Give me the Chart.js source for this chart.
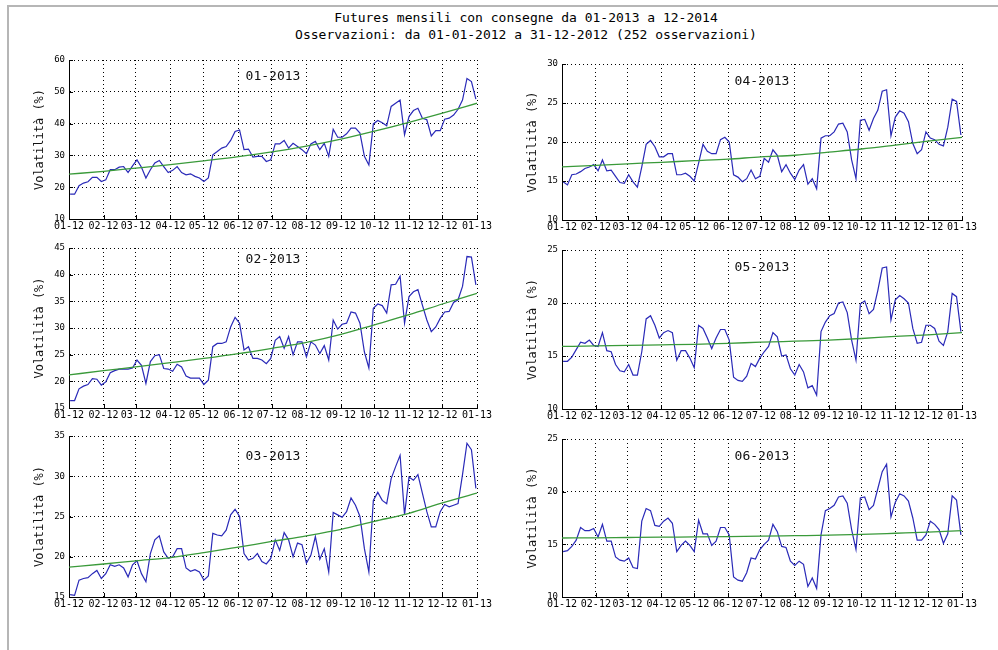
<!DOCTYPE html>
<html>
<head>
<meta charset="utf-8">
<script src="https://cdn.jsdelivr.net/npm/chart.js@4"></script>
<style>
  html, body { margin: 0; padding: 0; background: #fff; }
  body { width: 998px; height: 650px; overflow: hidden; position: relative; font-family: "DejaVu Sans Mono", monospace; }
  #frame { position: absolute; left: 7px; top: 5px; right: -10px; bottom: -10px;
           border-top: 2px solid #b6b6b6; border-left: 2px solid #b6b6b6; }
  .fig-title { position: absolute; left: 0; width: 1052px; text-align: center; font-size: 13px;
               line-height: 15px; color: #000; white-space: pre; }
  canvas { position: absolute; }
</style>
</head>
<body>
<div id="frame"></div>
<div class="fig-title" style="top:10px">Futures mensili con consegne da 01-2013 a 12-2014</div>
<div class="fig-title" style="top:27px">Osservazioni: da 01-01-2012 a 31-12-2012 (252 osservazioni)</div>

<script>
// ---- x axis: day of 2012 at each month start, and its labels ----
const monthDays = [0, 31, 60, 91, 121, 152, 182, 213, 244, 274, 305, 335, 366];
const monthLabels = ['01-12', '02-12', '03-12', '04-12', '05-12', '06-12', '07-12',
                     '08-12', '09-12', '10-12', '11-12', '12-12', '01-13'];

// ---- sampling days (day of 2012) of the volatility series ----
const sampleDays = [1, 5, 9, 13, 17, 21, 25, 29, 33, 37, 41, 45, 49, 53, 57, 61, 65, 69, 73, 77,
  81, 85, 89, 93, 97, 101, 105, 109, 113, 117, 121, 125, 129, 133, 137, 141, 145, 149, 153, 157,
  161, 165, 169, 173, 177, 181, 185, 189, 193, 197, 201, 205, 209, 213, 217, 221, 225, 229, 233, 237,
  241, 245, 249, 253, 257, 261, 265, 269, 273, 277, 281, 285, 289, 293, 297, 301, 305, 309, 313, 317,
  321, 325, 329, 333, 337, 341, 345, 349, 353, 357, 361, 365];

// ---- volatility (%) per delivery month ----
const vol0113 = [
  17.8, 17.8, 20.5, 21.3, 21.7, 23.1, 23.1, 21.8, 22.3, 25.5,
  25.5, 26.3, 26.5, 24.6, 26.7, 28.6, 26.3, 22.9, 25.5, 27.6,
  28.4, 26.5, 24.6, 25.3, 26.5, 24.6, 23.9, 24.2, 23.4, 22.9,
  21.8, 22.9, 30.2, 31.2, 32.3, 32.8, 34.7, 37.5, 38.0, 31.8,
  32.0, 29.5, 29.7, 29.7, 28.1, 28.6, 33.6, 33.6, 34.7, 32.3,
  33.8, 32.8, 31.8, 30.5, 33.6, 34.4, 31.8, 33.8, 29.7, 38.2,
  35.7, 35.7, 36.8, 38.6, 38.6, 37.0, 29.7, 27.0, 39.9, 41.0,
  40.3, 39.3, 45.4, 46.4, 47.4, 36.5, 42.2, 44.1, 44.8, 41.7,
  41.2, 36.1, 37.8, 37.8, 41.4, 41.7, 42.7, 44.5, 47.4, 54.2,
  53.2, 47.7];
const vol0213 = [
  16.4, 16.4, 18.6, 19.1, 19.4, 20.5, 20.4, 19.3, 19.9, 21.6,
  22.0, 22.3, 22.3, 22.3, 22.5, 24.0, 23.0, 19.6, 23.7, 24.8,
  25.0, 22.4, 22.3, 21.9, 23.2, 22.7, 21.0, 20.6, 20.6, 20.6,
  19.4, 20.2, 26.5, 27.1, 27.1, 27.4, 30.2, 32.0, 30.9, 25.9,
  26.5, 24.3, 24.3, 24.0, 23.3, 24.3, 27.7, 28.4, 26.2, 28.4,
  25.0, 27.4, 27.4, 24.6, 27.4, 26.8, 25.2, 26.7, 24.0, 31.5,
  29.8, 30.7, 30.9, 33.0, 32.8, 30.9, 25.5, 22.5, 33.7, 34.5,
  34.2, 32.8, 38.1, 38.2, 39.7, 30.9, 35.9, 36.8, 37.2, 34.3,
  31.5, 29.3, 30.2, 31.8, 33.0, 33.1, 34.8, 35.3, 37.8, 43.4,
  43.3, 38.1];
const vol0313 = [
  15.3, 15.2, 17.1, 17.3, 17.4, 17.9, 18.3, 17.3, 17.9, 19.0,
  18.8, 19.0, 18.6, 17.5, 19.0, 19.5, 17.9, 16.9, 20.4, 22.1,
  22.6, 20.6, 19.8, 20.0, 21.0, 21.0, 18.6, 18.2, 18.4, 18.1,
  17.1, 17.6, 22.9, 22.7, 22.6, 23.3, 25.2, 25.9, 25.0, 20.4,
  19.6, 19.8, 20.4, 19.4, 19.1, 19.8, 22.1, 20.8, 23.0, 22.1,
  20.0, 21.7, 21.5, 19.2, 20.2, 22.5, 19.7, 21.0, 18.1, 25.5,
  25.2, 24.9, 25.6, 27.3, 26.4, 25.0, 21.0, 18.1, 27.0, 28.0,
  27.0, 26.6, 29.7, 31.2, 32.6, 25.2, 29.9, 29.5, 30.2, 27.9,
  25.6, 23.7, 23.7, 25.6, 26.5, 26.2, 26.4, 26.6, 30.2, 34.1,
  33.3, 28.5];
const vol0413 = [
  14.9, 14.5, 15.8, 15.9, 16.2, 16.6, 16.8, 17.1, 16.3, 17.7,
  16.3, 16.4, 15.6, 14.8, 14.7, 15.8, 14.9, 14.2, 16.8, 19.7,
  20.2, 19.4, 18.1, 18.1, 18.5, 18.5, 15.8, 15.8, 16.0, 15.6,
  15.0, 17.3, 19.7, 18.8, 18.5, 18.5, 20.3, 20.6, 20.0, 15.8,
  15.5, 14.9, 15.3, 16.4, 15.3, 15.6, 17.9, 17.4, 19.0, 18.3,
  16.2, 17.1, 16.0, 15.2, 16.4, 17.1, 14.6, 15.3, 14.0, 20.5,
  20.8, 20.8, 21.3, 22.3, 22.4, 21.3, 17.7, 15.3, 22.8, 22.9,
  21.5, 23.0, 24.1, 26.5, 26.7, 20.8, 23.2, 24.0, 23.7, 22.6,
  19.8, 18.5, 19.0, 21.3, 20.5, 20.3, 19.7, 19.5, 21.9, 25.5,
  25.2, 20.9];
const vol0513 = [
  14.5, 14.5, 14.9, 15.6, 16.3, 16.2, 16.5, 16.0, 15.9, 17.2,
  15.5, 15.4, 14.2, 13.6, 13.5, 14.2, 13.2, 13.2, 15.4, 18.5,
  18.8, 17.9, 16.7, 17.2, 17.4, 17.2, 14.6, 15.5, 15.5, 14.8,
  13.9, 17.9, 17.6, 16.7, 15.7, 16.7, 17.5, 17.5, 16.5, 13.0,
  12.7, 12.6, 13.1, 14.3, 14.0, 14.8, 15.4, 15.9, 17.2, 16.8,
  15.0, 15.1, 13.8, 13.2, 14.2, 13.5, 12.0, 12.2, 11.3, 17.3,
  18.2, 18.8, 19.0, 20.0, 20.1, 19.1, 16.5, 14.6, 19.9, 20.2,
  19.0, 19.4, 21.2, 23.3, 23.4, 18.4, 20.3, 20.7, 20.4, 20.0,
  17.6, 16.2, 16.3, 17.9, 17.9, 17.6, 16.4, 16.0, 17.3, 20.9,
  20.6, 17.3];
const vol0613 = [
  14.3, 14.4, 14.8, 15.4, 16.6, 16.3, 16.3, 16.5, 15.7, 16.9,
  15.3, 15.3, 13.8, 13.5, 13.4, 13.7, 12.8, 12.7, 17.2, 18.4,
  18.2, 16.8, 16.7, 17.2, 17.5, 17.0, 14.3, 14.9, 15.3, 14.9,
  14.3, 17.3, 16.0, 16.0, 14.9, 15.3, 16.6, 16.6, 15.9, 11.9,
  11.6, 11.5, 12.3, 13.7, 13.6, 14.5, 15.0, 15.4, 16.9, 16.2,
  14.8, 14.7, 13.4, 13.0, 13.4, 13.1, 11.0, 11.8, 10.8, 15.9,
  18.2, 18.4, 18.7, 19.5, 19.6, 18.9, 16.4, 14.5, 19.4, 19.5,
  18.3, 18.7, 20.3, 21.9, 22.6, 17.6, 19.0, 19.8, 19.6, 19.1,
  17.5, 15.4, 15.4, 15.9, 17.2, 16.9, 16.4, 15.1, 16.0, 19.6,
  19.2, 15.9];

// ---- fitted trend (%) at each month start ----
const trend0113 = [24.1, 25.0, 26.0, 27.1, 28.3, 29.6, 31.1, 32.9, 35.1, 37.6, 40.4, 43.3, 46.4];
const trend0213 = [21.2, 22.0, 22.7, 23.5, 24.3, 25.2, 26.2, 27.3, 28.8, 30.6, 32.5, 34.5, 36.5];
const trend0313 = [18.7, 19.1, 19.5, 19.9, 20.5, 21.2, 21.9, 22.6, 23.4, 24.4, 25.4, 26.7, 27.9];
const trend0413 = [16.8, 17.0, 17.2, 17.4, 17.6, 17.8, 18.1, 18.3, 18.7, 19.1, 19.6, 20.1, 20.6];
const trend0513 = [15.9, 15.95, 16.0, 16.05, 16.1, 16.2, 16.3, 16.4, 16.5, 16.65, 16.85, 17.0, 17.2];
const trend0613 = [15.6, 15.62, 15.65, 15.68, 15.7, 15.73, 15.77, 15.82, 15.87, 15.95, 16.05, 16.15, 16.3];

// ---- y tick values per panel ----
const yTicks0113 = [10, 20, 30, 40, 50, 60];
const yTicks0213 = [15, 20, 25, 30, 35, 40, 45];
const yTicks0313 = [15, 20, 25, 30, 35];
const yTicks0413 = [10, 15, 20, 25, 30];
const yTicks0513 = [10, 15, 20, 25];
const yTicks0613 = [10, 15, 20, 25];

const panels = [
  { name: '01-2013', vol: vol0113, trend: trend0113, yTicks: yTicks0113 },
  { name: '02-2013', vol: vol0213, trend: trend0213, yTicks: yTicks0213 },
  { name: '03-2013', vol: vol0313, trend: trend0313, yTicks: yTicks0313 },
  { name: '04-2013', vol: vol0413, trend: trend0413, yTicks: yTicks0413 },
  { name: '05-2013', vol: vol0513, trend: trend0513, yTicks: yTicks0513 },
  { name: '06-2013', vol: vol0613, trend: trend0613, yTicks: yTicks0613 }
];

// plot-area boxes on the page [left, top, right, bottom] and title offset from the top
const panelLayout = [
  { box: [69, 60, 477, 219], titleDy: 17 },
  { box: [69, 248, 477, 408], titleDy: 12 },
  { box: [69, 436, 477, 597], titleDy: 21 },
  { box: [562, 64, 962, 220], titleDy: 18 },
  { box: [562, 250, 962, 409], titleDy: 18 },
  { box: [562, 439, 962, 597], titleDy: 18 }
];

const MONO = '"DejaVu Sans Mono", monospace';

// small tick marks pointing into the plot area from the left and bottom axes
const inwardTicks = {
  id: 'inwardTicks',
  afterDraw(chart) {
    const { ctx, chartArea: a, scales: { x, y } } = chart;
    ctx.save();
    ctx.strokeStyle = '#000';
    ctx.lineWidth = 1;
    ctx.beginPath();
    x.ticks.forEach(t => {
      const px = Math.round(x.getPixelForValue(t.value)) + 0.5;
      ctx.moveTo(px, a.bottom);
      ctx.lineTo(px, a.bottom - 4);
    });
    y.ticks.forEach(t => {
      const py = Math.round(y.getPixelForValue(t.value)) + 0.5;
      ctx.moveTo(a.left, py);
      ctx.lineTo(a.left + 4, py);
    });
    ctx.stroke();
    ctx.restore();
  }
};

// delivery-month caption inside each plot
const panelCaption = {
  id: 'panelCaption',
  afterDraw(chart, args, opts) {
    const { ctx, chartArea: a } = chart;
    ctx.save();
    ctx.font = '13px ' + MONO;
    ctx.fillStyle = '#111';
    ctx.textAlign = 'center';
    ctx.textBaseline = 'middle';
    ctx.fillText(opts.text, (a.left + a.right) / 2, a.top + opts.dy);
    ctx.restore();
  }
};

function makePanel(p, lay) {
  const [L, T, R, B] = lay.box;
  const padL = 40, padT = 12, padR = 24, padB = 20;
  const w = R - L + padL + padR;
  const h = B - T + padT + padB;
  const cv = document.createElement('canvas');
  cv.width = w; cv.height = h;
  cv.style.left = (L - padL) + 'px';
  cv.style.top = (T - padT) + 'px';
  cv.style.width = w + 'px';
  cv.style.height = h + 'px';
  document.body.appendChild(cv);

  const gridOpts = { color: '#000', lineWidth: 1, drawTicks: false };
  const borderOpts = { display: true, color: '#000', width: 1, dash: [1, 3] };

  new Chart(cv, {
    type: 'line',
    data: {
      datasets: [
        {
          data: sampleDays.map((d, i) => ({ x: d, y: p.vol[i] })),
          borderColor: '#2a2ab8', borderWidth: 1.2, pointRadius: 0, tension: 0, order: 2
        },
        {
          data: monthDays.map((d, i) => ({ x: d, y: p.trend[i] })),
          borderColor: '#3a9a3a', borderWidth: 1.3, pointRadius: 0,
          cubicInterpolationMode: 'monotone', order: 1
        }
      ]
    },
    options: {
      responsive: false,
      animation: false,
      events: [],
      layout: { padding: { left: 0, top: padT, right: padR, bottom: 0 } },
      plugins: {
        legend: { display: false },
        tooltip: { enabled: false },
        panelCaption: { text: p.name, dy: lay.titleDy }
      },
      scales: {
        x: {
          type: 'linear', min: monthDays[0], max: monthDays[monthDays.length - 1],
          afterBuildTicks: s => { s.ticks = monthDays.map(v => ({ value: v })); },
          afterFit: s => { s.height = padB; },
          ticks: {
            autoSkip: false, maxRotation: 0, minRotation: 0, padding: 1,
            color: '#000', font: { family: MONO, size: 10 },
            callback: (v, i) => monthLabels[i]
          },
          grid: gridOpts,
          border: borderOpts
        },
        y: {
          min: p.yTicks[0], max: p.yTicks[p.yTicks.length - 1],
          afterBuildTicks: s => { s.ticks = p.yTicks.map(v => ({ value: v })); },
          afterFit: s => { s.width = padL; },
          ticks: { padding: 4, color: '#000', font: { family: MONO, size: 9 } },
          title: {
            display: true, text: 'Volatilità (%)', color: '#111',
            font: { family: MONO, size: 12 }, padding: { top: 4, bottom: 0 }
          },
          grid: gridOpts,
          border: borderOpts
        }
      }
    },
    plugins: [inwardTicks, panelCaption]
  });
}

panels.forEach((p, i) => makePanel(p, panelLayout[i]));
</script>
</body>
</html>
